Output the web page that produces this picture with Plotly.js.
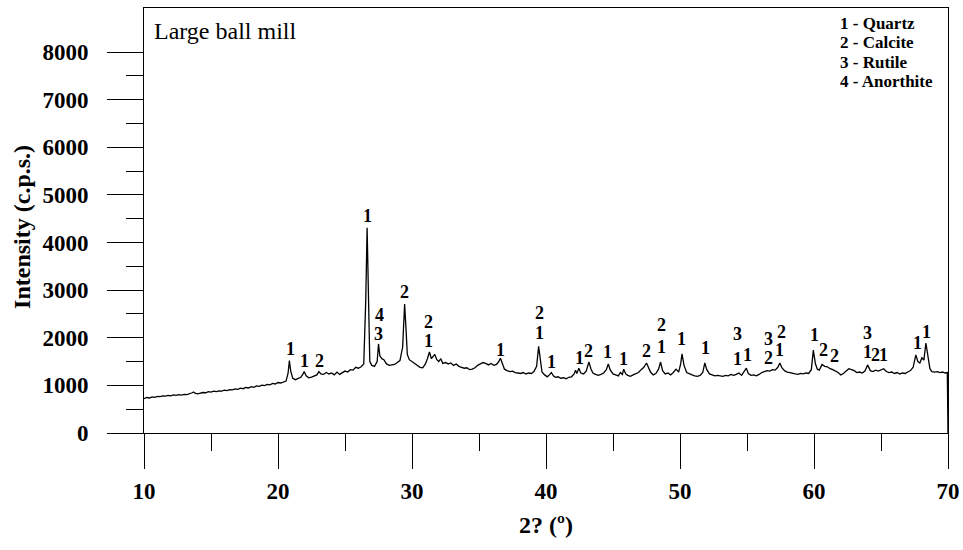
<!DOCTYPE html>
<html>
<head>
<meta charset="utf-8">
<script src="https://cdn.plot.ly/plotly-3.0.1.min.js"></script>
<style>html,body{margin:0;padding:0;background:#fff;}#chart{width:963px;height:550px;}</style>
</head>
<body>
<div id="chart"></div>
<script>
// 2-theta (degrees) and intensity (c.p.s.)
const twoTheta = [
10.0,10.2,10.4,10.6,10.8,11.0,11.2,11.4,11.6,11.8,12.0,12.2,12.4,12.6,12.8,13.0,13.2,13.4,13.6,13.7,13.8,14.0,14.2,14.4,14.6,14.8,
15.0,15.2,15.4,15.6,15.8,16.0,16.2,16.4,16.6,16.8,17.0,17.2,17.4,17.6,17.8,18.0,18.2,18.4,18.6,18.8,19.0,19.2,19.4,19.6,19.8,
20.0,20.2,20.4,20.6,20.75,20.85,20.95,21.1,21.3,21.5,21.7,21.85,21.95,22.1,22.3,22.5,22.7,22.9,23.05,23.2,23.4,23.6,23.8,
24.0,24.2,24.4,24.6,24.8,25.0,25.2,25.4,25.6,25.8,26.0,26.2,26.4,26.55,26.65,26.75,26.85,27.0,27.2,27.4,27.5,27.6,27.75,27.9,
28.1,28.3,28.5,28.7,28.9,29.1,29.3,29.45,29.55,29.65,29.8,30.0,30.2,30.4,30.6,30.8,31.0,31.15,31.3,31.45,31.6,31.7,31.85,
32.0,32.15,32.3,32.5,32.7,32.9,33.1,33.3,33.5,33.7,33.9,34.1,34.3,34.5,34.7,34.9,35.1,35.3,35.5,35.7,35.9,36.1,36.3,36.45,
36.6,36.75,36.9,37.1,37.3,37.5,37.7,37.9,38.1,38.3,38.5,38.7,38.9,39.1,39.3,39.45,39.55,39.7,39.9,40.1,40.25,40.4,40.55,
40.7,40.9,41.1,41.3,41.5,41.7,41.9,42.1,42.2,42.3,42.45,42.6,42.8,43.0,43.2,43.35,43.5,43.7,43.9,44.1,44.3,44.5,44.65,44.8,
45.0,45.2,45.4,45.55,45.7,45.8,45.95,46.1,46.3,46.5,46.7,46.9,47.1,47.3,47.5,47.65,47.8,48.0,48.2,48.4,48.55,48.7,48.9,
49.1,49.3,49.5,49.7,49.9,50.05,50.15,50.3,50.5,50.7,50.9,51.1,51.3,51.5,51.7,51.85,52.0,52.2,52.4,52.6,52.8,53.0,53.2,53.4,
53.6,53.8,54.0,54.2,54.4,54.6,54.8,54.95,55.1,55.3,55.5,55.7,55.9,56.1,56.3,56.5,56.7,56.9,57.1,57.3,57.45,57.6,57.8,58.0,
58.2,58.4,58.6,58.8,59.0,59.2,59.4,59.6,59.8,59.95,60.1,60.25,60.4,60.6,60.8,61.0,61.2,61.4,61.6,61.8,62.0,62.2,62.4,62.6,
62.8,63.0,63.2,63.4,63.6,63.8,64.0,64.2,64.4,64.6,64.8,65.0,65.2,65.4,65.6,65.8,66.0,66.2,66.4,66.6,66.8,67.0,67.2,67.4,
67.6,67.75,67.9,68.05,68.2,68.35,68.5,68.65,68.8,69.0,69.2,69.4,69.6,69.8,69.95,70.0
];
const intensity = [
720,745,735,760,750,770,765,780,775,790,780,800,790,805,795,810,805,820,845,860,835,820,835,850,845,870,
860,880,870,885,880,900,890,910,905,925,915,940,930,955,945,975,960,990,980,1005,995,1020,1010,1040,1030,
1060,1050,1075,1090,1250,1520,1300,1150,1120,1140,1170,1230,1290,1200,1160,1175,1190,1220,1290,1240,1230,1270,1240,
1260,1220,1280,1230,1270,1300,1280,1330,1320,1380,1360,1390,1450,2800,4310,2600,1500,1420,1400,1500,1870,1620,1560,1540,
1450,1420,1430,1440,1480,1520,1800,2710,2200,1650,1540,1500,1450,1420,1380,1370,1450,1560,1700,1560,1620,1650,1540,
1500,1560,1460,1480,1450,1470,1420,1450,1400,1380,1360,1370,1330,1340,1370,1420,1450,1480,1460,1430,1460,1420,1440,1490,
1570,1430,1340,1310,1290,1300,1270,1260,1250,1270,1240,1260,1250,1290,1400,1820,1600,1280,1220,1180,1220,1270,1200,
1170,1180,1150,1160,1140,1170,1180,1240,1320,1250,1360,1260,1240,1300,1490,1350,1260,1230,1210,1230,1260,1330,1450,1320,
1240,1220,1200,1270,1230,1340,1240,1210,1190,1220,1250,1270,1330,1380,1470,1380,1280,1220,1250,1340,1490,1310,1240,
1260,1220,1270,1340,1280,1450,1660,1420,1270,1240,1220,1200,1190,1210,1270,1470,1330,1240,1220,1200,1210,1200,1190,1210,
1200,1230,1210,1230,1260,1210,1290,1360,1250,1210,1220,1200,1230,1270,1290,1310,1300,1330,1320,1380,1470,1370,1310,1280,
1270,1250,1240,1230,1250,1240,1260,1250,1330,1740,1460,1340,1320,1440,1400,1390,1350,1330,1300,1270,1220,1250,1300,1350,
1330,1310,1270,1280,1260,1300,1430,1310,1290,1320,1300,1330,1350,1290,1270,1280,1250,1270,1240,1260,1250,1280,1310,1380,
1640,1500,1470,1580,1530,1890,1600,1350,1290,1280,1290,1270,1280,1260,1270,0
];

// Phase marks over the peaks: position (2-theta), height (c.p.s.), phase number
const markTheta = [20.9,22.0,23.1,26.65,27.5,27.55,29.45,31.2,31.2,36.6,39.5,39.5,40.4,
  42.5,43.2,44.6,45.8,47.5,48.6,48.6,50.1,51.9,54.3,54.3,55.0,56.6,56.6,57.6,57.4,
  60.0,60.7,61.5,64.0,64.0,64.6,65.2,67.7,68.4];
const markHeight = [1764,1512,1512,4556,2079,2478,2960,2331,1932,1743,2520,2100,1491,
  1575,1722,1700,1554,1722,2268,1806,1974,1785,2079,1554,1638,1974,1575,2121,1743,
  2058,1743,1617,2100,1700,1638,1638,1890,2121];
const markText = ["1","1","2","1","3","4","2","2","1","1","2","1","1",
  "1","2","1","1","2","2","1","1","1","3","1","1","3","2","2","1",
  "1","2","2","3","1","2","1","1","1"];

const phaseKey = ["1 - Quartz","2 - Calcite","3 - Rutile","4 - Anorthite"];

const xTicks = [10,20,30,40,50,60,70];
const yTicks = [0,1000,2000,3000,4000,5000,6000,7000,8000];

const serif = "Liberation Serif, Times New Roman, serif";
const annotations = [];
for (let i = 0; i < markTheta.length; i++) {
  annotations.push({x: markTheta[i], y: markHeight[i], xref: "x", yref: "y", text: markText[i],
    showarrow: false, xanchor: "center", yanchor: "middle",
    font: {family: serif, size: 18, color: "#000", weight: "bold"}});
}
const keyY = [0.9647, 0.9188, 0.8729, 0.8271];
phaseKey.forEach((t, i) => annotations.push({x: 0.8632, y: keyY[i], xref: "paper", yref: "paper",
  text: t, showarrow: false, xanchor: "left", yanchor: "middle",
  font: {family: serif, size: 17, color: "#000", weight: "bold"}}));
annotations.push({x: 0.0099, y: 0.9459, xref: "paper", yref: "paper", text: "Large ball mill",
  showarrow: false, xanchor: "left", yanchor: "middle", font: {family: serif, size: 24, color: "#000"}});
annotations.push({x: 0.5, y: -0.2165, xref: "paper", yref: "paper", text: "2? (º)",
  showarrow: false, xanchor: "center", yanchor: "middle", font: {family: serif, size: 24, color: "#000", weight: "bold"}});
annotations.push({x: -0.1517, y: 0.485, xref: "paper", yref: "paper", text: "Intensity (c.p.s.)",
  showarrow: false, textangle: -90, xanchor: "center", yanchor: "middle", font: {family: serif, size: 24, color: "#000", weight: "bold"}});

const data = [{x: twoTheta, y: intensity, type: "scatter", mode: "lines",
  line: {color: "#000", width: 1.3}, hoverinfo: "skip"}];

const layout = {
  width: 963, height: 550,
  margin: {l: 144, r: 15, t: 8, b: 117},
  paper_bgcolor: "#fff", plot_bgcolor: "#fff",
  showlegend: false,
  font: {family: serif, color: "#000"},
  xaxis: {range: [10, 70], tickmode: "array", tickvals: xTicks, ticktext: xTicks.map(String),
    ticks: "outside", ticklen: 35, tickwidth: 1, tickcolor: "#000",
    showline: true, linecolor: "#000", linewidth: 1, mirror: true, showgrid: false, zeroline: false,
    ticklabelstandoff: 2,
    tickfont: {family: serif, size: 23, color: "#000", weight: "bold"},
    minor: {tickmode: "array", tickvals: [15,25,35,45,55,65], ticks: "outside", ticklen: 17, tickwidth: 1, tickcolor: "#000", showgrid: false}},
  yaxis: {range: [0, 8924], tickmode: "array", tickvals: yTicks, ticktext: yTicks.map(String),
    ticks: "outside", ticklen: 36, tickwidth: 1, tickcolor: "#000",
    showline: true, linecolor: "#000", linewidth: 1, mirror: true, showgrid: false, zeroline: false,
    ticklabelstandoff: 14,
    tickfont: {family: serif, size: 23, color: "#000", weight: "bold"},
    minor: {tickmode: "array", tickvals: [500,1500,2500,3500,4500,5500,6500,7500], ticks: "outside", ticklen: 17, tickwidth: 1, tickcolor: "#000", showgrid: false}},
  annotations: annotations
};
Plotly.newPlot("chart", data, layout, {displayModeBar: false, staticPlot: true});
</script>
</body>
</html>
